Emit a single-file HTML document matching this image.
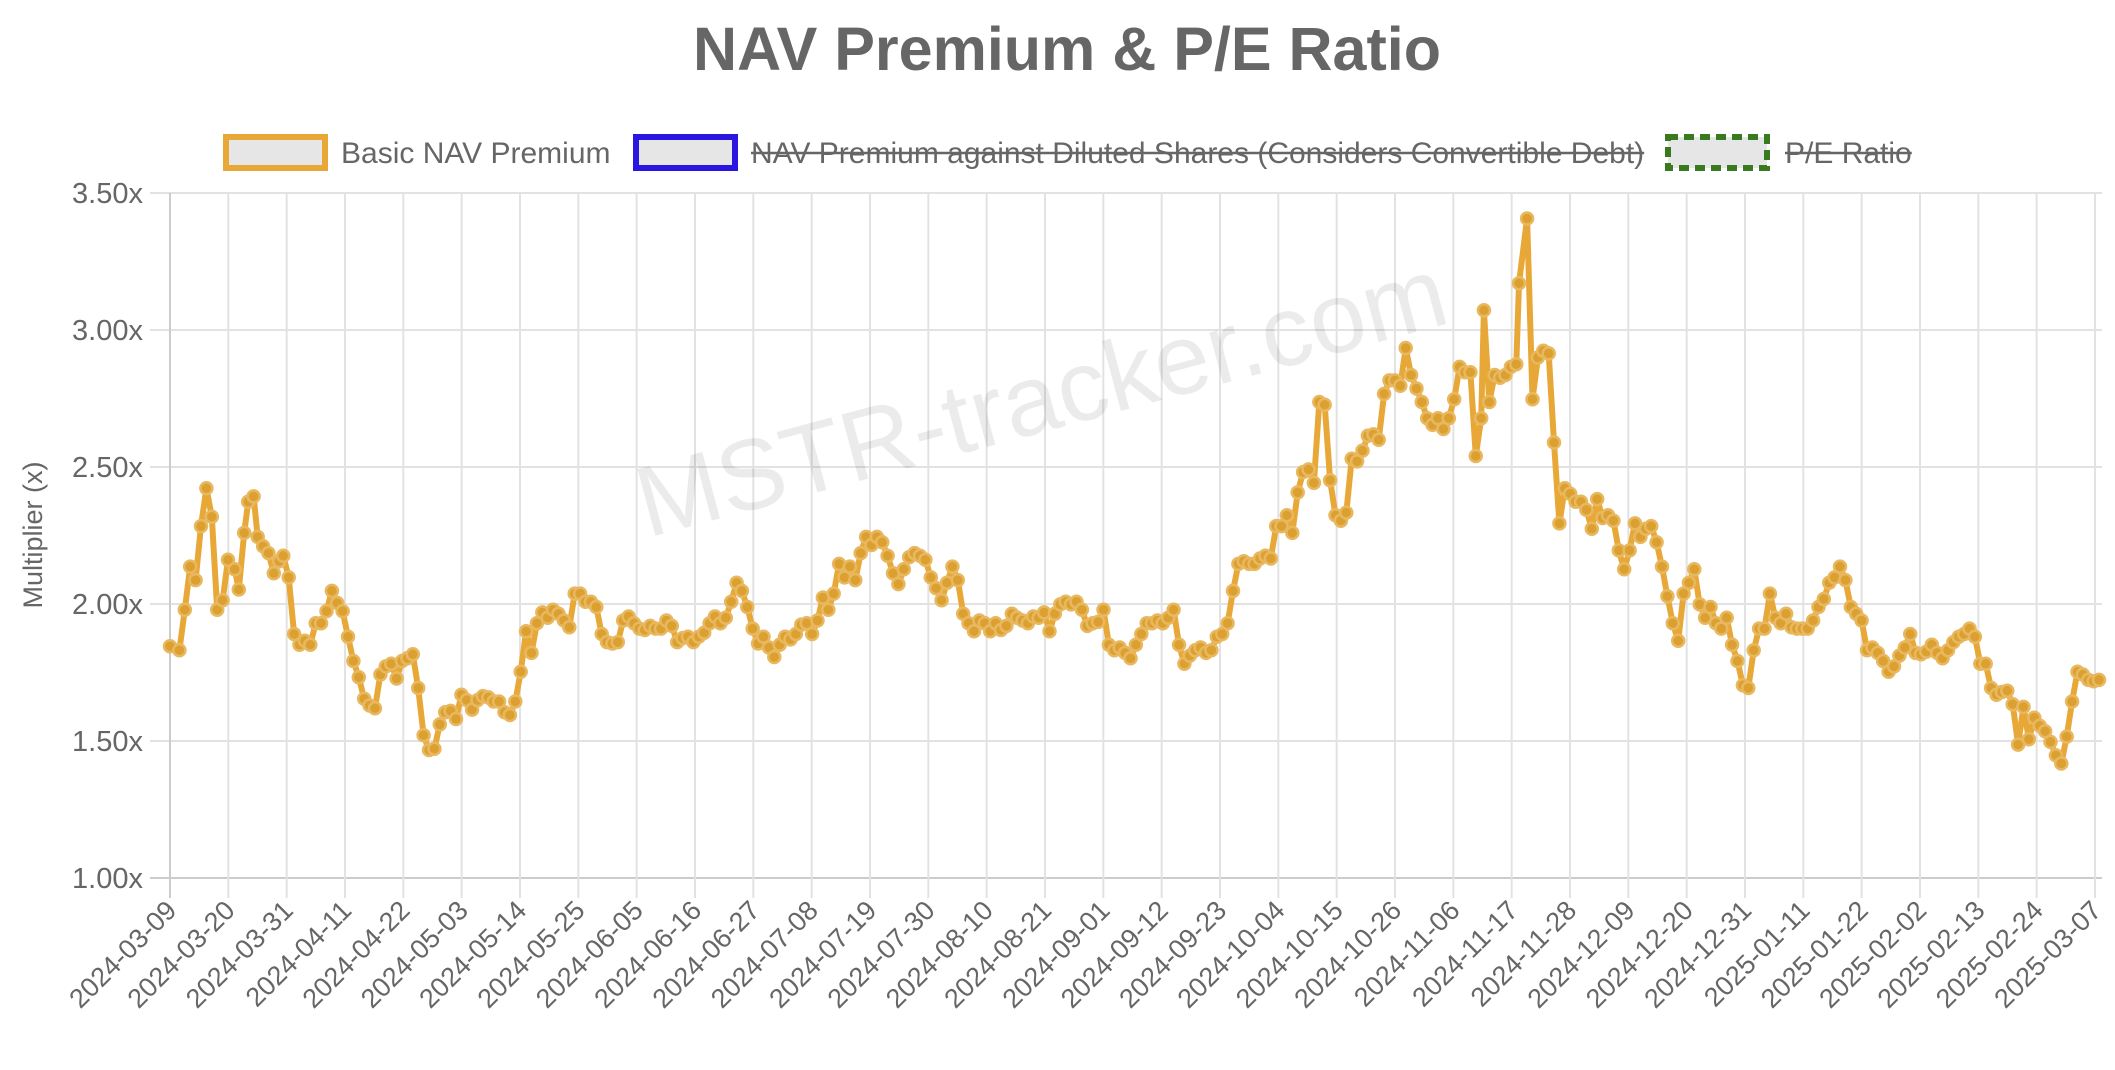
<!DOCTYPE html>
<html><head><meta charset="utf-8"><style>
html,body{margin:0;padding:0;background:#fff;}
svg{display:block;font-family:"Liberation Sans",Arial,sans-serif;}
</style></head><body>
<svg id="c" width="2115" height="1070" xmlns="http://www.w3.org/2000/svg">
<text x="1067" y="70" text-anchor="middle" font-size="61" font-weight="bold" fill="#666">NAV Premium &amp; P/E Ratio</text>
<rect x="226" y="137" width="99" height="31" fill="#e6e6e6" stroke="#e8a838" stroke-width="6"/>
<text x="341" y="163" font-size="30" fill="#666">Basic NAV Premium</text>
<rect x="636" y="137" width="99" height="31" fill="#e6e6e6" stroke="#2a16e0" stroke-width="6"/>
<text id="t2" x="751" y="163" font-size="30" fill="#666">NAV Premium against Diluted Shares (Considers Convertible Debt)</text>
<line id="l2" x1="751" y1="153" x2="1643" y2="153" stroke="#666" stroke-width="2.5"/>
<rect x="1668" y="137" width="99" height="31" fill="#e6e6e6" stroke="#3a7a1e" stroke-width="6" stroke-dasharray="10,6"/>
<text id="t3" x="1785" y="163" font-size="30" fill="#666">P/E Ratio</text>
<line id="l3" x1="1785" y1="153" x2="1910" y2="153" stroke="#666" stroke-width="2.5"/>
<g id="grid"></g>
<text x="0" y="0" transform="translate(1050,430) rotate(-15)" text-anchor="middle" font-size="100" fill="#000" fill-opacity="0.08">MSTR-tracker.com</text>
<text transform="translate(42,535) rotate(-90)" text-anchor="middle" font-size="27" fill="#666">Multiplier (x)</text>
<g id="data"></g>
</svg>
<script>
var ns="http://www.w3.org/2000/svg";
function el(t,a,p){var e=document.createElementNS(ns,t);for(var k in a)e.setAttribute(k,a[k]);(p||document.getElementById('grid')).appendChild(e);return e;}
["2","3"].forEach(function(n){var t=document.getElementById('t'+n),l=document.getElementById('l'+n);l.setAttribute('x2',751*(n=="2")+1785*(n=="3")+t.getComputedTextLength());});
var L=170,R=2098,T=193,B=878;
var labels=["2024-03-09","2024-03-20","2024-03-31","2024-04-11","2024-04-22","2024-05-03","2024-05-14","2024-05-25","2024-06-05","2024-06-16","2024-06-27","2024-07-08","2024-07-19","2024-07-30","2024-08-10","2024-08-21","2024-09-01","2024-09-12","2024-09-23","2024-10-04","2024-10-15","2024-10-26","2024-11-06","2024-11-17","2024-11-28","2024-12-09","2024-12-20","2024-12-31","2025-01-11","2025-01-22","2025-02-02","2025-02-13","2025-02-24","2025-03-07"];
var vals=["3.50x","3.00x","2.50x","2.00x","1.50x","1.00x"];
for(var i=0;i<6;i++){var y=T+i*137;
el('line',{x1:150,y1:y,x2:R+4,y2:y,stroke:i==5?'#ccc':'#e2e2e2','stroke-width':2});
var t=el('text',{x:143,y:y+10,'text-anchor':'end','font-size':29,fill:'#666'});t.textContent=vals[i];}
for(var i=0;i<34;i++){var x=L+i*(1925/33);
el('line',{x1:x,y1:T,x2:x,y2:898,stroke:i==0?'#ccc':'#e2e2e2','stroke-width':2});
var t=el('text',{x:0,y:0,transform:'translate('+(x+8)+',912) rotate(-45)','text-anchor':'end','font-size':27,fill:'#666'});t.textContent=labels[i];}
var P=[126,479,133,482,137,452,141,420,145,430,149,390,153,362,157,383,161,452,165,445,169,415,174,422,177,437,181,395,184,372,188,368,191,398,195,405,199,410,203,425,207,416,210,412,214,428,218,470,222,478,226,475,230,478,234,462,238,462,242,453,246,438,250,447,254,453,258,472,262,490,266,502,270,518,274,523,278,525,282,500,286,494,290,492,294,503,298,490,302,488,306,485,310,510,314,545,318,556,322,555,326,537,330,528,334,527,338,533,342,515,346,519,350,526,354,519,358,516,362,517,366,520,370,520,374,528,378,530,382,520,386,498,390,468,394,484,398,462,402,454,406,458,410,452,414,455,418,460,422,465,426,440,430,440,434,446,438,446,442,450,446,470,450,476,454,477,458,476,462,460,466,457,470,462,474,466,478,467,482,464,486,466,490,466,494,460,498,464,502,476,506,473,510,472,514,476,518,472,522,469,526,462,530,457,534,462,538,458,542,446,546,432,550,438,554,450,558,466,562,477,566,472,570,480,574,487,578,478,582,472,586,474,590,470,594,463,598,462,602,470,606,460,610,443,614,452,618,440,622,418,626,428,630,420,634,430,638,410,642,398,646,404,650,398,654,402,658,412,662,425,666,433,670,422,674,413,678,410,682,412,686,415,690,428,694,436,698,445,702,432,706,420,710,430,714,455,718,462,722,468,726,460,730,462,734,468,738,462,742,467,746,464,750,455,754,458,758,460,762,462,766,457,770,458,774,454,778,468,782,455,786,448,790,446,794,448,798,446,802,452,806,464,810,462,814,461,818,452,822,478,826,482,830,480,834,484,838,488,842,478,846,470,850,462,854,462,858,460,862,462,866,458,870,452,874,478,878,492,882,486,886,482,890,480,894,484,898,482,902,472,906,470,910,462,914,438,918,418,922,416,926,418,930,418,934,414,938,412,942,414,946,390,950,390,954,382,958,395,962,365,966,350,970,348,974,358,978,298,982,300,986,356,990,382,994,386,998,380,1002,340,1006,342,1010,334,1014,323,1018,322,1022,326,1026,292,1030,282,1034,282,1038,286,1042,258,1046,278,1050,288,1054,298,1058,310,1062,315,1066,310,1070,318,1074,310,1078,296,1082,272,1086,276,1090,276,1094,338,1098,310,1100,230,1104,298,1108,278,1112,280,1116,278,1120,272,1124,270,1126,210,1132,162,1136,296,1140,265,1144,260,1148,262,1152,328,1156,388,1160,362,1164,366,1168,372,1172,372,1176,378,1180,392,1184,370,1188,384,1192,382,1196,386,1200,408,1204,422,1208,408,1212,388,1216,398,1220,392,1224,390,1228,402,1232,420,1236,442,1240,462,1244,475,1248,440,1252,432,1256,422,1260,448,1264,458,1268,450,1272,462,1276,466,1280,458,1284,478,1288,490,1292,508,1296,510,1300,482,1304,466,1308,466,1312,440,1316,458,1320,462,1324,455,1328,465,1332,466,1336,466,1340,466,1344,460,1348,450,1352,444,1356,432,1360,428,1364,420,1368,430,1372,450,1376,455,1380,460,1384,482,1388,480,1392,484,1396,490,1400,498,1404,494,1408,486,1412,480,1416,470,1420,484,1424,485,1428,483,1432,478,1436,484,1440,488,1444,482,1448,476,1452,472,1456,470,1460,466,1464,472,1468,492,1472,492,1476,510,1480,515,1484,513,1488,512,1492,522,1496,552,1500,524,1504,548,1508,532,1512,538,1516,542,1520,550,1524,560,1528,566,1532,546,1536,520,1540,498,1544,500,1548,504,1552,505,1556,504];
var s=1.349,pts=[];
for(var i=0;i<P.length;i+=2){pts.push((P[i]*s).toFixed(1)+','+(P[i+1]*s).toFixed(1));}
var d=document.getElementById('data');
el('polyline',{points:pts.join(' '),fill:'none',stroke:'#e8a838','stroke-width':6,'stroke-linejoin':'round'},d);
pts.forEach(function(p){var q=p.split(',');el('circle',{cx:q[0],cy:q[1],r:6,fill:'#dca030',stroke:'#e8b860','stroke-width':2.5},d);});
</script>
</body></html>
